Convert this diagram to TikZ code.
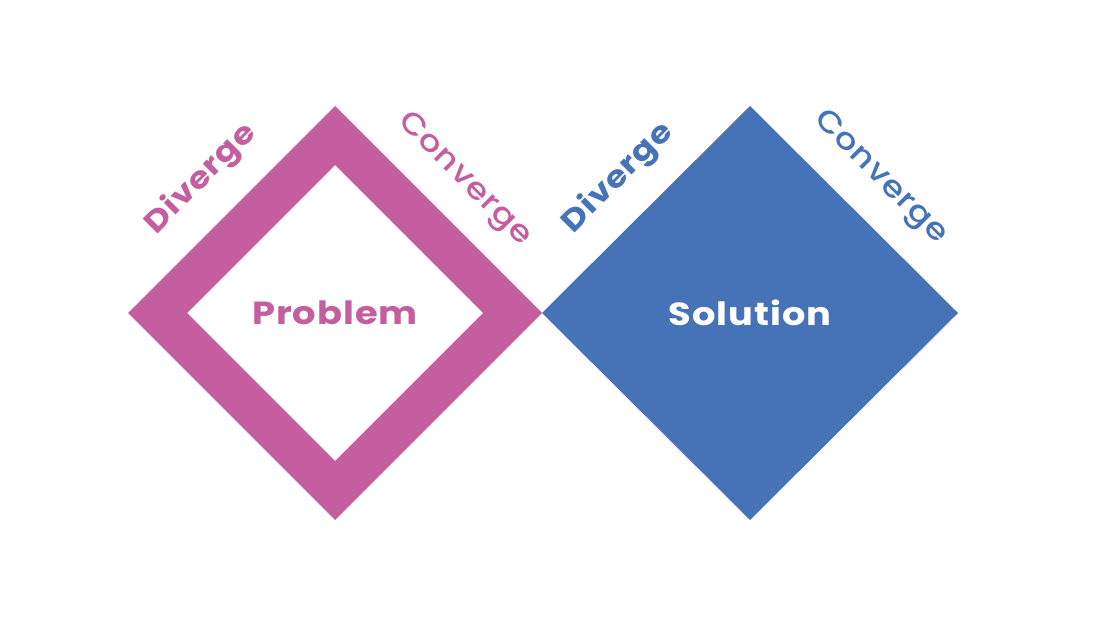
\documentclass[tikz,border=0pt]{standalone}
\usepackage{fontspec}
\setmainfont{Poppins}[LetterSpace=3, FakeStretch=1.15]
\newfontfamily\medfont{Poppins}[UprightFont=* Medium, LetterSpace=3, FakeStretch=1.15]
\definecolor{pinkc}{RGB}{196,94,158}
\definecolor{bluec}{RGB}{70,115,183}
\tikzset{
  center label/.style={font=\fontsize{32}{34}\selectfont\bfseries, inner sep=0pt},
  bold label/.style={font=\fontsize{30}{32}\selectfont\bfseries, inner sep=0pt},
  light label/.style={font=\fontsize{30}{32}\medfont, inner sep=0pt},
}
\begin{document}
\begin{tikzpicture}[x=1pt,y=-1pt]
\useasboundingbox[fill=white] (0,0) rectangle (1102,636);
% pink frame diamond
\coordinate (pc) at (335,313);
\fill[pinkc, even odd rule]
  (128,313) -- (335,106) -- (542,313) -- (335,520) -- cycle
  (187,313) -- (335,165) -- (483,313) -- (335,461) -- cycle;
% blue diamond
\coordinate (bc) at (750,313);
\fill[bluec] (542,313) -- (750,106) -- (958,313) -- (750,520) -- cycle;
% labels
\node[bold label, text=pinkc, rotate=45] (d1) at (201,179) {Diverge};
\node[light label, text=pinkc, rotate=-45] (c1) at (464,180) {Converge};
\node[bold label, text=bluec, rotate=45] (d2) at (618,178) {Diverge};
\node[light label, text=bluec, rotate=-45] (c2) at (880,178) {Converge};
\node[center label, text=pinkc] (prob) at (pc) {Problem};
\node[center label, text=white] (sol) at (bc) {Solution};
\end{tikzpicture}
\end{document}
